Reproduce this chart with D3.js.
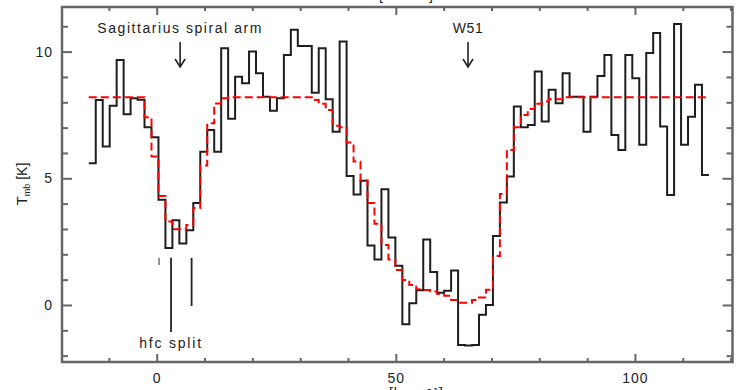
<!DOCTYPE html>
<html>
<head>
<meta charset="utf-8">
<script src="https://cdn.jsdelivr.net/npm/d3@7"></script>
<style>
  body { margin: 0; background: #fff; }
  svg { display: block; }
  text { font-family: "Liberation Sans", Arial, sans-serif; fill: #222; }
</style>
</head>
<body>
<div id="chart"></div>
<script>
// spectral channel grid (km/s)
const channelStart = -14.2;
const channelWidth = 1.457;

// observed spectrum, T_mb [K] per channel
const tmbObs = [
  5.59, 8.09, 6.25, 7.86, 9.67, 7.53, 8.16, 8.10, 7.01, 6.62,
  4.15, 2.25, 3.34, 2.43, 2.95, 4.02, 6.05, 6.91, 6.05, 10.13,
  7.35, 9.01, 8.75, 10.00, 9.15, 8.22, 7.67, 8.16, 9.87, 10.86,
  10.22, 10.22, 8.38, 10.13, 8.12, 6.84, 10.40, 5.09, 4.36, 4.90,
  2.35, 1.80, 4.57, 2.66, 1.55, -0.76, 0.07, 0.58, 2.58, 1.30,
  0.48, 0.56, 1.36, -1.58, -1.60, -1.58, -0.39, 0.00, 2.72, 4.04,
  5.07, 7.83, 7.01, 7.10, 9.21, 7.24, 8.49, 7.96, 9.15, 8.22,
  8.22, 6.84, 8.22, 9.04, 9.87, 6.71, 6.12, 9.87, 8.95, 6.32,
  9.94, 10.73, 7.04, 4.34, 11.09, 6.32, 7.43, 8.69, 5.13
];

// model fit, T_mb [K] per channel
const tmbModel = [
  8.20, 8.20, 8.20, 8.20, 8.20, 8.20, 8.20, 8.20, 7.41, 5.86,
  4.30, 3.29, 2.99, 2.99, 3.16, 3.83, 5.50, 7.17, 7.95, 8.16,
  8.20, 8.20, 8.20, 8.20, 8.20, 8.20, 8.20, 8.20, 8.20, 8.20,
  8.20, 8.20, 8.09, 7.94, 7.70, 7.07, 7.01, 6.41, 5.66, 4.91,
  4.02, 3.21, 2.37, 1.80, 1.38, 0.99, 0.79, 0.62, 0.59, 0.53,
  0.43, 0.36, 0.20, 0.09, 0.09, 0.20, 0.30, 0.60, 1.93, 4.38,
  6.12, 7.01, 7.50, 7.73, 7.94, 8.03, 8.12, 8.12, 8.20, 8.20,
  8.20, 8.20, 8.20, 8.20, 8.20, 8.20, 8.20, 8.20, 8.20, 8.20,
  8.20, 8.20, 8.20, 8.20, 8.20, 8.20, 8.20, 8.20, 8.20
];

// hyperfine components: velocity and line end (K)
const hfcVel = [0.5, 3.0, 7.3];
const hfcTop = 1.86;
const hfcBottom = [1.58, -1.07, -0.04];

const xMajor = [0, 50, 100];
const xMinor = [-10, 10, 20, 30, 40, 60, 70, 80, 90, 110, 120];
const yMajor = [0, 5, 10];
const yMinor = [-2, -1, 1, 2, 3, 4, 6, 7, 8, 9, 11];

const marks = [
  { label: "Sagittarius spiral arm", v: 4.9, spacing: 1.55 },
  { label: "W51", v: 65.1, spacing: 0.6 }
];

const width = 736, height = 390;
const mLeft = 62, mRight = 732.5, mTop = 7, mBottom = 362;

const svg = d3.select('#chart').append('svg')
  .attr('width', width)
  .attr('height', height);

const x = d3.scaleLinear().domain([-19.8, 120.4]).range([mLeft, mRight]);
const y = d3.scaleLinear().domain([-2.25, 11.76]).range([mBottom, mTop]);

const frameColor = '#666';

function stepPoints(vals) {
  const pts = vals.map((t, i) => [channelStart + i * channelWidth, t]);
  pts.push([channelStart + vals.length * channelWidth, vals[vals.length - 1]]);
  return pts;
}

const line = d3.line()
  .x(d => x(d[0]))
  .y(d => y(d[1]))
  .curve(d3.curveStepAfter);

// observed histogram
svg.append('path')
  .attr('d', line(stepPoints(tmbObs)))
  .attr('fill', 'none')
  .attr('stroke', '#1e1e1e')
  .attr('stroke-width', 2);

// model
svg.append('path')
  .attr('d', line(stepPoints(tmbModel)))
  .attr('fill', 'none')
  .attr('stroke', '#f00')
  .attr('stroke-width', 2)
  .attr('stroke-dasharray', '8,4');

// hfc markers
hfcVel.forEach((v, i) => {
  svg.append('line')
    .attr('x1', x(v)).attr('x2', x(v))
    .attr('y1', y(hfcTop)).attr('y2', y(hfcBottom[i]))
    .attr('stroke', i === 0 ? '#888' : '#222')
    .attr('stroke-width', 1.8);
});
svg.append('text')
  .attr('x', x(3.0)).attr('y', 348)
  .attr('text-anchor', 'middle')
  .style('font-size', '14px')
  .style('letter-spacing', '1.8px')
  .text('hfc split');

// labelled arrows
marks.forEach(m => {
  const cx = x(m.v);
  svg.append('text')
    .attr('x', cx).attr('y', 32.5)
    .attr('text-anchor', 'middle')
    .style('font-size', '14px')
    .style('letter-spacing', m.spacing + 'px')
    .text(m.label);
  svg.append('line')
    .attr('x1', cx).attr('x2', cx)
    .attr('y1', 42).attr('y2', 67)
    .attr('stroke', '#222').attr('stroke-width', 1.6);
  svg.append('path')
    .attr('d', `M${cx - 5},${59}L${cx},${67}L${cx + 5},${59}`)
    .attr('fill', 'none')
    .attr('stroke', '#222').attr('stroke-width', 1.6);
});

// axes
function styleAxis(g) {
  g.select('.domain').remove();
  g.selectAll('.tick line').attr('stroke', frameColor).attr('stroke-width', 2);
  g.selectAll('.tick text')
    .style('font-family', '"Liberation Sans", Arial, sans-serif')
    .style('font-size', '14px')
    .style('letter-spacing', '1px')
    .attr('fill', '#222');
}

svg.append('g').attr('transform', `translate(0,${mBottom})`)
  .call(d3.axisBottom(x).tickValues(xMajor).tickSize(-8).tickPadding(11).tickFormat(d3.format('d')))
  .call(styleAxis);
svg.append('g').attr('transform', `translate(0,${mBottom})`)
  .call(d3.axisBottom(x).tickValues(xMinor).tickSize(-4).tickFormat(''))
  .call(styleAxis);
svg.append('g').attr('transform', `translate(0,${mTop})`)
  .call(d3.axisTop(x).tickValues(xMajor).tickSize(-8).tickFormat(''))
  .call(styleAxis);
svg.append('g').attr('transform', `translate(0,${mTop})`)
  .call(d3.axisTop(x).tickValues(xMinor).tickSize(-4).tickFormat(''))
  .call(styleAxis);

svg.append('g').attr('transform', `translate(${mLeft},0)`)
  .call(d3.axisLeft(y).tickValues(yMajor).tickSize(-10).tickPadding(9).tickFormat(d3.format('d')))
  .call(styleAxis);
svg.append('g').attr('transform', `translate(${mLeft},0)`)
  .call(d3.axisLeft(y).tickValues(yMinor).tickSize(-6).tickFormat(''))
  .call(styleAxis);
svg.append('g').attr('transform', `translate(${mRight},0)`)
  .call(d3.axisRight(y).tickValues(yMajor).tickSize(-10).tickFormat(''))
  .call(styleAxis);
svg.append('g').attr('transform', `translate(${mRight},0)`)
  .call(d3.axisRight(y).tickValues(yMinor).tickSize(-6).tickFormat(''))
  .call(styleAxis);

// frame
svg.append('rect')
  .attr('x', mLeft).attr('y', mTop)
  .attr('width', mRight - mLeft).attr('height', mBottom - mTop)
  .attr('fill', 'none')
  .attr('stroke', frameColor)
  .attr('stroke-width', 2.5);

// y label
const ylab = svg.append('text')
  .attr('transform', 'translate(27,184) rotate(-90)')
  .attr('text-anchor', 'middle')
  .style('font-size', '14px');
ylab.append('tspan').style('font-size', '15px').text('T');
ylab.append('tspan').style('font-size', '9px').attr('dy', 3).text('mb');
ylab.append('tspan').attr('dy', -3).text(' [K]');

// x labels (cut by the page edges)
svg.append('text')
  .attr('x', 410).attr('y', 398)
  .attr('text-anchor', 'middle')
  .style('font-size', '14px')
  .style('letter-spacing', '1px')
  .text('v [km s\u207B\u00B9]');
svg.append('text')
  .attr('x', 400).attr('y', 0)
  .attr('text-anchor', 'middle')
  .style('font-size', '14px')
  .style('letter-spacing', '1px')
  .text('v [km s\u207B\u00B9]');
</script>
</body>
</html>
